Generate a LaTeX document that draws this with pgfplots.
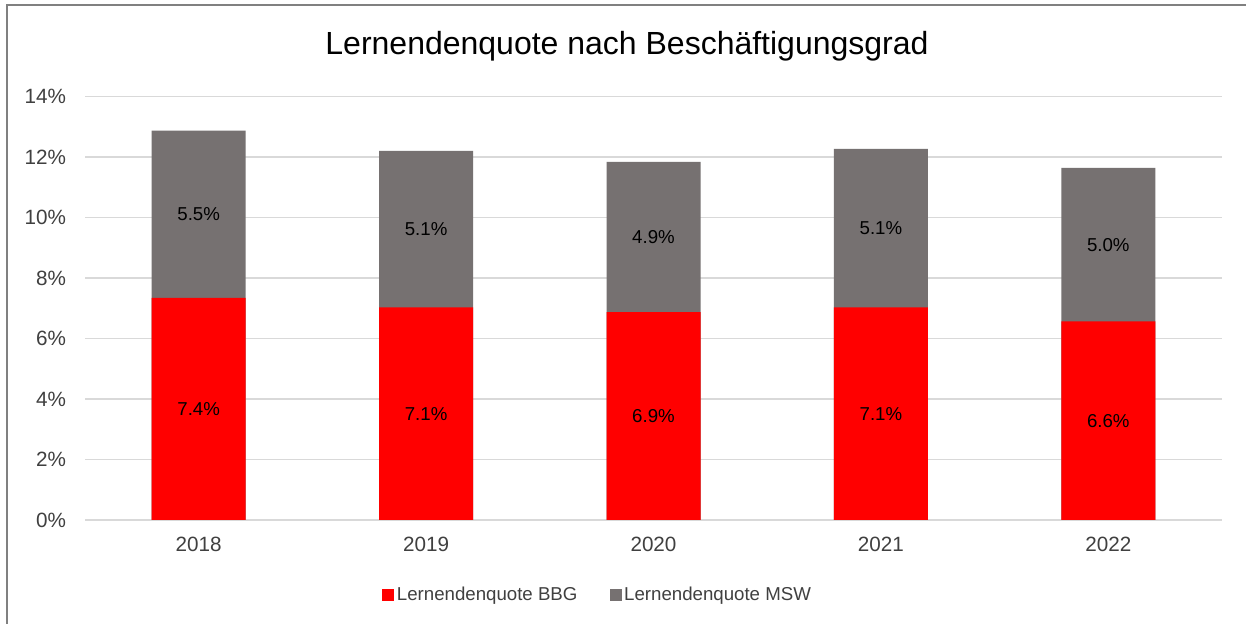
\documentclass[border=0pt]{standalone}
\usepackage{fontspec}
\setmainfont{Liberation Sans}
\usepackage{pgfplots}
\pgfplotsset{compat=1.18}
\usepackage{pgfplotstable}
\definecolor{barred}{HTML}{FF0000}
\definecolor{bargray}{HTML}{767171}
\definecolor{gridc}{HTML}{D9D9D9}
\definecolor{tickc}{HTML}{404040}
\definecolor{framec}{HTML}{808080}
% x = category index, red = Lernendenquote BBG, total = BBG + MSW
\pgfplotstableread{
x red total
0 7.34 12.87
1 7.03 12.20
2 6.87 11.84
3 7.03 12.27
4 6.57 11.64
}\bars
\pgfplotstableread{
x y lab
0 3.67 7.4\%
1 3.515 7.1\%
2 3.435 6.9\%
3 3.515 7.1\%
4 3.285 6.6\%
0 10.105 5.5\%
1 9.615 5.1\%
2 9.355 4.9\%
3 9.65 5.1\%
4 9.105 5.0\%
}\labels
\begin{document}
\begin{tikzpicture}
\useasboundingbox (0,0) rectangle (934.5pt,468pt);
\fill[white] (0,0) rectangle (934.5pt,468pt);
\draw[framec, line width=1.3pt] (5.25pt,0) -- (5.25pt,464.25pt) -- (934.5pt,464.25pt);
\node[anchor=base, font=\fontsize{24}{28}\selectfont, text=black] at (470.25pt,426.75pt) {Lernendenquote nach Beschäftigungsgrad};
\begin{axis}[
  at={(63.75pt,78pt)}, anchor=south west,
  scale only axis,
  width=852.75pt, height=317.6pt,
  xmin=-0.5, xmax=4.5, ymin=0, ymax=14,
  xtick={0,1,2,3,4},
  xticklabels={2018,2019,2020,2021,2022},
  ytick={0,2,4,6,8,10,12,14},
  yticklabels={0\%,2\%,4\%,6\%,8\%,10\%,12\%,14\%},
  major tick length=0pt,
  axis line style={draw=none},
  ymajorgrids,
  grid style={gridc, line width=1.1pt},
  tick label style={font=\fontsize{15.5}{18}\selectfont, text=tickc, inner sep=0pt},
  x tick label style={anchor=north, yshift=-12.5pt},
  y tick label style={anchor=east, xshift=-14pt},
  clip=false,
  legend style={at={(0.2612,-0.177)}, anchor=west, draw=none, fill=none,
    inner sep=0pt, font=\fontsize{14}{16}\selectfont, text=tickc,
    legend columns=2, nodes={inner sep=2pt, text=tickc},
    /tikz/every even column/.append style={column sep=22pt}},
  legend image code/.code={\fill[#1] (0pt,-4.5pt) rectangle (9pt,4.5pt);},
]
\addplot[ybar, bar width=70.5pt, bar shift=0pt, fill=bargray, draw=none, forget plot] table[x=x, y=total] {\bars};
\addplot[ybar, bar width=70.5pt, bar shift=0pt, fill=barred, draw=none] table[x=x, y=red] {\bars};
\addlegendentry{Lernendenquote BBG}
\addlegendimage{fill=bargray, draw=none}
\addlegendentry{Lernendenquote MSW}
\addplot[draw=none, mark=none, forget plot, nodes near coords, point meta=explicit symbolic,
  nodes near coords align=center,
  every node near coord/.style={font=\fontsize{14}{16}\selectfont, text=black, anchor=center}]
  table[x=x, y=y, meta=lab] {\labels};
\end{axis}
\end{tikzpicture}
\end{document}
